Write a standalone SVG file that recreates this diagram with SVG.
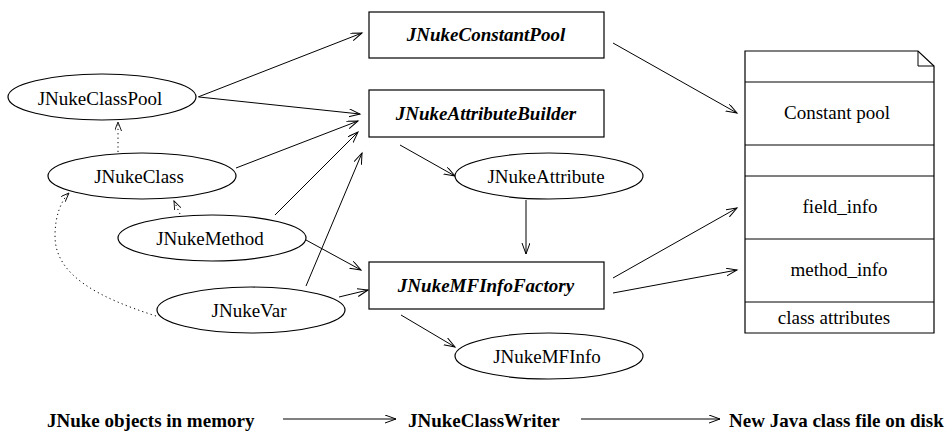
<svg xmlns="http://www.w3.org/2000/svg" width="946" height="432" viewBox="0 0 946 432">
  <style>
    .shape { fill: #ffffff; stroke: #000000; stroke-width: 1.2; }
    .edge { fill: none; stroke: #000000; stroke-width: 1; }
    .dotted { stroke-dasharray: 1.2 3.2; }
    .lbl { font-family: "Liberation Serif", "Times New Roman", serif; font-size: 19px; fill: #000000; text-anchor: middle; }
    .cls { font-weight: bold; font-style: italic; }
    .bold { font-family: "Liberation Serif", "Times New Roman", serif; font-size: 19px; font-weight: bold; fill: #000000; }
  </style>
  <defs>
    <marker id="open" markerUnits="userSpaceOnUse" markerWidth="14" markerHeight="10" refX="11" refY="4" orient="auto">
      <path d="M0,0 L11,4 L0,8" fill="none" stroke="#000000" stroke-width="1"/>
    </marker>
    <marker id="openSmall" markerUnits="userSpaceOnUse" markerWidth="12" markerHeight="10" refX="9" refY="3.5" orient="auto">
      <path d="M0,0 L9,3.5 L0,7" fill="none" stroke="#000000" stroke-width="0.9"/>
    </marker>
  </defs>

  <rect width="946" height="432" fill="#ffffff"/>

  <!-- connectors -->
  <g id="connectors">
    <line class="edge" x1="198" y1="97" x2="362" y2="33" marker-end="url(#open)"/>
    <line class="edge" x1="199" y1="97" x2="360" y2="114" marker-end="url(#open)"/>
    <line class="edge" x1="236" y1="168" x2="358" y2="121" marker-end="url(#open)"/>
    <line class="edge" x1="275" y1="215" x2="358" y2="132" marker-end="url(#open)"/>
    <line class="edge" x1="306" y1="286" x2="362" y2="153" marker-end="url(#open)"/>
    <line class="edge" x1="306" y1="240" x2="361" y2="270" marker-end="url(#open)"/>
    <line class="edge" x1="339" y1="297" x2="368" y2="290" marker-end="url(#open)"/>
    <line class="edge" x1="400" y1="145" x2="455" y2="176" marker-end="url(#open)"/>
    <line class="edge" x1="526" y1="200" x2="526" y2="254" marker-end="url(#open)"/>
    <line class="edge" x1="401" y1="315" x2="455" y2="347" marker-end="url(#open)"/>
    <line class="edge" x1="613" y1="43" x2="737" y2="113" marker-end="url(#open)"/>
    <line class="edge" x1="613" y1="278" x2="737" y2="208" marker-end="url(#open)"/>
    <line class="edge" x1="613" y1="293" x2="737" y2="270" marker-end="url(#open)"/>
    <line class="edge dotted" x1="118" y1="152" x2="118" y2="122" marker-end="url(#openSmall)"/>
    <line class="edge dotted" x1="180" y1="214" x2="174" y2="201" marker-end="url(#openSmall)"/>
    <path class="edge dotted" d="M156,316 C100,298 55,276 55,236 C55,216 61,201 69,193" marker-end="url(#openSmall)"/>
    <!-- legend arrows -->
    <line class="edge" x1="283" y1="419" x2="396" y2="419" marker-end="url(#open)"/>
    <line class="edge" x1="581" y1="419" x2="720" y2="419" marker-end="url(#open)"/>
  </g>

  <!-- in-memory objects -->
  <g id="classpool">
    <ellipse class="shape" cx="102" cy="97" rx="94" ry="23"/>
    <text class="lbl" x="100" y="105">JNukeClassPool</text>
  </g>
  <g id="class">
    <ellipse class="shape" cx="142" cy="176" rx="94" ry="23"/>
    <text class="lbl" x="139" y="183">JNukeClass</text>
  </g>
  <g id="method">
    <ellipse class="shape" cx="212" cy="238" rx="94" ry="23"/>
    <text class="lbl" x="210" y="245">JNukeMethod</text>
  </g>
  <g id="var">
    <ellipse class="shape" cx="251" cy="310" rx="94" ry="23"/>
    <text class="lbl" x="249" y="317">JNukeVar</text>
  </g>
  <g id="attribute">
    <ellipse class="shape" cx="549" cy="176" rx="94" ry="23"/>
    <text class="lbl" x="546" y="183">JNukeAttribute</text>
  </g>
  <g id="mfinfo">
    <ellipse class="shape" cx="549" cy="356" rx="94" ry="23"/>
    <text class="lbl" x="547" y="363">JNukeMFInfo</text>
  </g>

  <!-- writer components -->
  <g id="constantpool">
    <rect class="shape" x="369" y="12" width="235" height="46"/>
    <text class="lbl cls" x="486" y="41">JNukeConstantPool</text>
  </g>
  <g id="attributebuilder">
    <rect class="shape" x="369" y="90" width="235" height="47"/>
    <text class="lbl cls" x="486" y="120">JNukeAttributeBuilder</text>
  </g>
  <g id="mfinfofactory">
    <rect class="shape" x="369" y="262" width="235" height="47"/>
    <text class="lbl cls" x="486" y="292">JNukeMFInfoFactory</text>
  </g>

  <!-- class file document -->
  <g id="classfile">
    <path class="shape" d="M745,51 L918,51 L934,66 L934,333 L745,333 Z"/>
    <path class="edge" d="M918,51 L918,66 L934,66"/>
    <line class="edge" x1="745" y1="82" x2="934" y2="82"/>
    <line class="edge" x1="745" y1="145" x2="934" y2="145"/>
    <line class="edge" x1="745" y1="176" x2="934" y2="176"/>
    <line class="edge" x1="745" y1="239" x2="934" y2="239"/>
    <line class="edge" x1="745" y1="302" x2="934" y2="302"/>
    <text class="lbl" x="837" y="119">Constant pool</text>
    <text class="lbl" x="840" y="213">field_info</text>
    <text class="lbl" x="839" y="276">method_info</text>
    <text class="lbl" x="834" y="324">class attributes</text>
  </g>

  <!-- legend -->
  <g id="legend">
    <text class="bold" x="47" y="427">JNuke objects in memory</text>
    <text class="bold" x="408" y="427">JNukeClassWriter</text>
    <text class="bold" x="729" y="427">New Java class file on disk</text>
  </g>
</svg>
